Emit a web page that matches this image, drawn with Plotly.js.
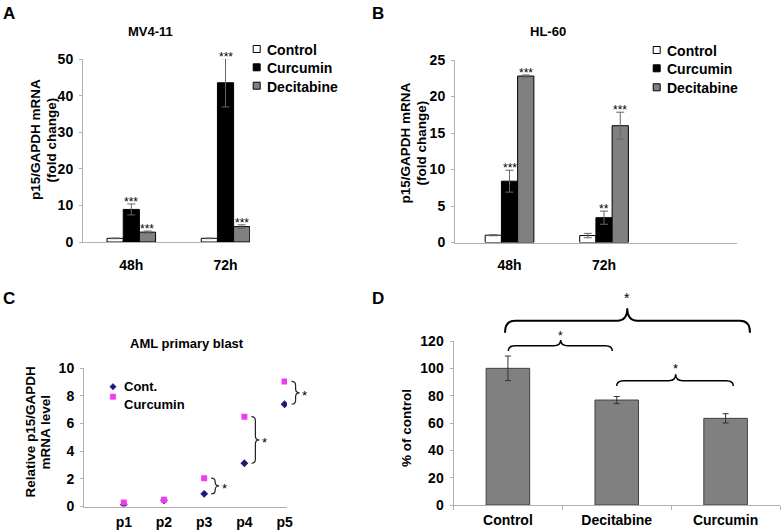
<!DOCTYPE html>
<html><head><meta charset="utf-8">
<script src="https://cdn.plot.ly/plotly-3.0.1.min.js"></script>
<style>html,body{margin:0;padding:0;background:#fff}</style>
</head><body><div id="chart" style="width:783px;height:531px"></div>
<script>
// ---------- DATA ----------
// Panel A – MV4-11
const timeCats = ['48h', '72h'];
const seriesNames = ['Control', 'Curcumin', 'Decitabine'];
const mvControl = [1.0, 1.0];
const mvControlErr = [0.1, 0.1];
const mvCurcumin = [8.9, 43.5];
const mvCurcuminErr = [1.5, 6.6];
const mvDecitabine = [2.7, 4.2];
const mvDecitabineErr = [0.3, 0.5];
const mvCurcuminSig = ['***', '***'];
const mvDecitabineSig = ['***', '***'];
// Panel B – HL-60
const hlControl = [1.0, 0.95];
const hlControlErr = [0.08, 0.3];
const hlCurcumin = [8.4, 3.4];
const hlCurcuminErr = [1.5, 0.9];
const hlDecitabine = [22.8, 16.0];
const hlDecitabineErr = [0.15, 1.85];
const hlCurcuminSig = ['***', '**'];
const hlDecitabineSig = ['***', '***'];
// Panel C – AML primary blast
const patients = ['p1', 'p2', 'p3', 'p4', 'p5'];
const amlSeriesNames = ['Cont.', 'Curcumin'];
const amlCont = [0.14, 0.45, 0.92, 3.13, 7.4];
const amlCurcumin = [0.29, 0.48, 2.05, 6.5, 9.05];
const amlSigIdx = [2, 3, 4];
// Panel D – % of control
const treatCats = ['Control', 'Decitabine', 'Curcumin'];
const pctControl = [100, 76.8, 63.4];
const pctControlErr = [9, 2.6, 3.4];

// ---------- GEOMETRY ----------
const W = 783, H = 531;
const F = 'Liberation Sans, Arial, sans-serif';
const geo = {
  A: {x0: 83, x1: 250, y0: 242, y1: 59, xr: [-0.513, 1.26], yr: [0, 50]},
  B: {x0: 455, x1: 737, y0: 242.5, y1: 60, xr: [-0.577, 2.407], yr: [0, 25]},
  C: {x0: 84, x1: 287, y0: 506.5, y1: 368.3, xr: [-0.99, 4.06], yr: [0, 10]},
  D: {x0: 453.5, x1: 780, y0: 505, y1: 341, xr: [-0.5, 2.5], yr: [0, 120]}
};
const xd = g => [g.x0 / W, g.x1 / W];
const yd = g => [(H - g.y0) / H, (H - g.y1) / H];
const px = x => x / W;
const py = y => 1 - y / H;
const P = (x, y) => px(x).toFixed(5) + ',' + py(y).toFixed(5);
const cx = (g, i) => g.x0 + (i - g.xr[0]) / (g.xr[1] - g.xr[0]) * (g.x1 - g.x0);
const cy = (g, v) => g.y0 - (v - g.yr[0]) / (g.yr[1] - g.yr[0]) * (g.y0 - g.y1);

const colors = ['#ffffff', '#000000', '#808080'];
const amlColors = ['#1c1c78', '#f03cf0'];
const bargap = 0.485;
const bw = (1 - bargap) / 3;

function err(arr, col) {
  return {type: 'data', array: arr, visible: true, color: col, thickness: 1, width: 4};
}

const traces = [];
function groupTraces(vals, errs, xa, ya) {
  vals.forEach((v, k) => {
    traces.push({
      type: 'bar', x: timeCats, y: v, name: seriesNames[k],
      xaxis: xa, yaxis: ya, showlegend: false,
      marker: {color: colors[k], line: {color: '#000', width: 1}},
      error_y: err(errs[k], '#666'), hoverinfo: 'skip'
    });
  });
}
groupTraces([mvControl, mvCurcumin, mvDecitabine], [mvControlErr, mvCurcuminErr, mvDecitabineErr], 'x', 'y');
groupTraces([hlControl, hlCurcumin, hlDecitabine], [hlControlErr, hlCurcuminErr, hlDecitabineErr], 'x2', 'y2');

traces.push({
  type: 'scatter', mode: 'markers', x: patients, y: amlCont, name: amlSeriesNames[0],
  xaxis: 'x3', yaxis: 'y3', showlegend: false,
  marker: {symbol: 'diamond', size: 6, color: amlColors[0]}, hoverinfo: 'skip'
});
traces.push({
  type: 'scatter', mode: 'markers', x: patients, y: amlCurcumin, name: amlSeriesNames[1],
  xaxis: 'x3', yaxis: 'y3', showlegend: false,
  marker: {symbol: 'square', size: 6, color: amlColors[1]}, hoverinfo: 'skip'
});

traces.push({
  type: 'bar', x: treatCats, y: pctControl, xaxis: 'x4', yaxis: 'y4',
  width: 0.4, showlegend: false,
  marker: {color: '#808080', line: {color: '#404040', width: 1}},
  error_y: {type: 'data', array: pctControlErr, visible: true, color: '#333', thickness: 1, width: 3},
  hoverinfo: 'skip'
});

// ---------- AXES ----------
const tf = {family: F, size: 14, color: '#000', weight: 'bold'};
const base = {showline: true, linecolor: '#b0b0b0', linewidth: 1, showgrid: false, zeroline: false, tickfont: tf, fixedrange: true};
function xax(g, anchor, extra) {
  return Object.assign({}, base, {type: 'category', domain: xd(g), range: g.xr, anchor: anchor, ticks: ''}, extra || {});
}
function yax(g, anchor, dtick, extra) {
  return Object.assign({}, base, {domain: yd(g), range: g.yr, anchor: anchor, dtick: dtick, ticks: 'outside', ticklen: 3, tickcolor: '#b0b0b0', ticklabelstandoff: 3}, extra || {});
}

// ---------- ANNOTATIONS ----------
const ann = [];
const shapes = [];
function txt(x, y, text, size, bold, extra) {
  ann.push(Object.assign({xref: 'paper', yref: 'paper', x: px(x), y: py(y), text: text, showarrow: false,
    xanchor: 'center', yanchor: 'middle', font: {family: F, size: size, color: '#000', weight: bold ? 'bold' : 'normal'}}, extra || {}));
}
// panel letters
txt(9, 13, 'A', 17, true); txt(377.5, 13, 'B', 17, true);
txt(9, 298.5, 'C', 17, true); txt(377.5, 298.5, 'D', 17, true);
// titles
txt(150, 31.7, 'MV4-11', 13, true); txt(548.3, 31.7, 'HL-60', 13, true);
txt(186.7, 343.3, 'AML primary blast', 13, true);
// y-axis titles
const rot = {textangle: -90};
txt(35, 140, 'p15/GAPDH mRNA', 13.5, true, rot); txt(50.5, 140, '(fold change)', 13.5, true, rot);
txt(405, 143.5, 'p15/GAPDH mRNA', 13.5, true, rot); txt(421, 143.5, '(fold change)', 13.5, true, rot);
txt(30, 432.5, 'Relative p15/GAPDH', 13.5, true, rot); txt(45, 432.5, 'mRNA level', 13.5, true, rot);
txt(406.7, 428.3, '% of control', 13.5, true, rot);

// custom legends (A, B)
function barLegend(sx, tx, rows) {
  seriesNames.forEach((name, k) => {
    const yy = rows[k];
    shapes.push({type: 'rect', xref: 'paper', yref: 'paper',
      x0: px(sx - 3.5), x1: px(sx + 3.5), y0: py(yy + 2.5), y1: py(yy - 4.5),
      fillcolor: colors[k], line: {color: '#000', width: 1}});
    txt(tx, yy, name, 14, true, {xanchor: 'left'});
  });
}
barLegend(256.7, 264.5, [50, 68.3, 86.7]);
barLegend(656.7, 665, [51, 69.3, 88.3]);
// custom legend (C)
shapes.push({type: 'path', xref: 'paper', yref: 'paper',
  path: `M${P(113, 383.5)} L${P(116.2, 386.7)} L${P(113, 389.9)} L${P(109.8, 386.7)} Z`,
  fillcolor: amlColors[0], line: {color: amlColors[0], width: 0.5}});
shapes.push({type: 'rect', xref: 'paper', yref: 'paper',
  x0: px(110.3), x1: px(115.7), y0: py(399.4), y1: py(394),
  fillcolor: amlColors[1], line: {color: amlColors[1], width: 0.5}});
txt(121.5, 387, amlSeriesNames[0], 13, true, {xanchor: 'left'});
txt(121.5, 404, amlSeriesNames[1], 13, true, {xanchor: 'left'});

// significance stars on bars (A, B)
function stars(g, vals, errs, sig, k) {
  vals.forEach((v, i) => {
    const xp = cx(g, i + (k - 1) * bw);
    const yp = cy(g, v + errs[i]);
    txt(xp, yp - 2, sig[i], 12, false);
  });
}
stars(geo.A, mvCurcumin, mvCurcuminErr, mvCurcuminSig, 1);
stars(geo.A, mvDecitabine, mvDecitabineErr, mvDecitabineSig, 2);
stars(geo.B, hlCurcumin, hlCurcuminErr, hlCurcuminSig, 1);
stars(geo.B, hlDecitabine, hlDecitabineErr, hlDecitabineSig, 2);

// ---------- BRACES ----------
function vBrace(x0, yTop, yBot, w) {
  const xl = x0 + w / 2, xt = x0 + w, ym = (yTop + yBot) / 2, r = Math.min(4, (yBot - yTop) / 4);
  return `M${P(x0, yTop)} Q${P(xl, yTop)} ${P(xl, yTop + r)} L${P(xl, ym - r)} Q${P(xl, ym)} ${P(xt, ym)} Q${P(xl, ym)} ${P(xl, ym + r)} L${P(xl, yBot - r)} Q${P(xl, yBot)} ${P(x0, yBot)}`;
}
function hBrace(x0, x1, xm, yb, yl, yt, r) {
  return `M${P(x0, yb)} Q${P(x0, yl)} ${P(x0 + r, yl)} L${P(xm - r, yl)} Q${P(xm, yl)} ${P(xm, yt)} Q${P(xm, yl)} ${P(xm + r, yl)} L${P(x1 - r, yl)} Q${P(x1, yl)} ${P(x1, yb)}`;
}
amlSigIdx.forEach(i => {
  const xp = cx(geo.C, i);
  const yTop = cy(geo.C, amlCurcumin[i]), yBot = cy(geo.C, amlCont[i]);
  shapes.push({type: 'path', xref: 'paper', yref: 'paper', path: vBrace(xp + 7, yTop, yBot, 8), line: {color: '#222', width: 1.2}});
  txt(xp + 20, (yTop + yBot) / 2 + 3, '*', 13, false);
});
// Panel D comparison braces
const dBraces = [
  {x0: 505, x1: 750, xm: 627.3, yb: 332.7, yl: 320.7, yt: 308.3, r: 10, lw: 2, sy: 295, fs: 14},
  {x0: 508.3, x1: 612.3, xm: 560.7, yb: 351, yl: 345.7, yt: 340, r: 7, lw: 1.5, sy: 333.3, fs: 12},
  {x0: 616.7, x1: 733.3, xm: 675.7, yb: 386, yl: 380.7, yt: 374.3, r: 7, lw: 1.5, sy: 365.7, fs: 13}
];
dBraces.forEach(b => {
  shapes.push({type: 'path', xref: 'paper', yref: 'paper', path: hBrace(b.x0, b.x1, b.xm, b.yb, b.yl, b.yt, b.r), line: {color: '#000', width: b.lw}});
  txt(b.xm, b.sy + 3, '*', b.fs, false);
});

// ---------- LAYOUT ----------
const layout = {
  width: W, height: H, margin: {l: 0, r: 0, t: 0, b: 0},
  paper_bgcolor: '#fff', plot_bgcolor: 'rgba(0,0,0,0)',
  barmode: 'group', bargap: bargap, bargroupgap: 0,
  showlegend: false,
  font: {family: F, color: '#000'},
  xaxis: xax(geo.A, 'y', {ticklabelstandoff: 10}),
  yaxis: yax(geo.A, 'x', 10),
  xaxis2: xax(geo.B, 'y2', {ticklabelstandoff: 10}),
  yaxis2: yax(geo.B, 'x2', 5),
  xaxis3: xax(geo.C, 'y3', {ticklabelstandoff: 3}),
  yaxis3: yax(geo.C, 'x3', 2),
  xaxis4: xax(geo.D, 'y4', {ticks: 'outside', tickson: 'boundaries', ticklen: 4, tickcolor: '#b0b0b0', ticklabelstandoff: 2}),
  yaxis4: yax(geo.D, 'x4', 20),
  annotations: ann,
  shapes: shapes
};

Plotly.newPlot('chart', traces, layout, {displayModeBar: false, staticPlot: true});
</script>
</body></html>
